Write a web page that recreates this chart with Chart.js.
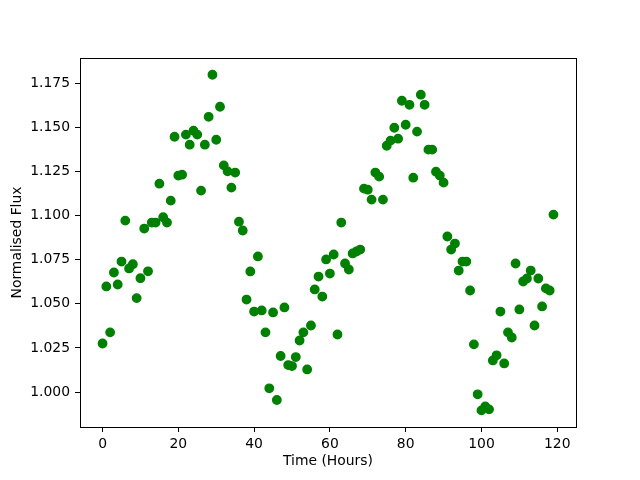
<!DOCTYPE html>
<html>
<head>
<meta charset="utf-8">
<title>Normalised Flux</title>
<script src="https://cdn.jsdelivr.net/npm/chart.js@4.4.1/dist/chart.umd.min.js"></script>
<style>
  html, body { margin: 0; padding: 0; background: #ffffff; }
  #wrap { width: 640px; height: 480px; }
</style>
</head>
<body>
<div id="wrap"><canvas id="fluxChart" width="640" height="480"></canvas></div>
<script>
// data
var hours = [
  0, 1, 2, 3, 4, 5, 6, 7, 8, 9, 10, 11, 12, 13, 14, 15, 16, 17, 18, 19,
  20, 21, 22, 23, 24, 25, 26, 27, 28, 29, 30, 31, 32, 33, 34, 35, 36, 37, 38, 39,
  40, 41, 42, 43, 44, 45, 46, 47, 48, 49, 50, 51, 52, 53, 54, 55, 56, 57, 58, 59,
  60, 61, 62, 63, 64, 65, 66, 67, 68, 69, 70, 71, 72, 73, 74, 75, 76, 77, 78, 79,
  80, 81, 82, 83, 84, 85, 86, 87, 88, 89, 90, 91, 92, 93, 94, 95, 96, 97, 98, 99,
  100, 101, 102, 103, 104, 105, 106, 107, 108, 109, 110, 111, 112, 113, 114, 115, 116, 117, 118, 119
];

var flux = [
  1.0275, 1.0598, 1.0338, 1.0677, 1.0609, 1.0739, 1.0971, 1.0700, 1.0724, 1.0532,
  1.0645, 1.0926, 1.0684, 1.0960, 1.0960, 1.1180, 1.0990, 1.0960, 1.1084, 1.1446,
  1.1226, 1.1231, 1.1458, 1.1401, 1.1480, 1.1458, 1.1141, 1.1401, 1.1559, 1.1797,
  1.1429, 1.1616, 1.1284, 1.1250, 1.1158, 1.1243, 1.0965, 1.0915, 1.0524, 1.0683,
  1.0456, 1.0768, 1.0462, 1.0338, 1.0021, 1.0451, 0.9955, 1.0204, 1.0479, 1.0153,
  1.0147, 1.0198, 1.0292, 1.0338, 1.0128, 1.0377, 1.0581, 1.0654, 1.0541, 1.0751,
  1.0671, 1.0779, 1.0326, 1.0960, 1.0728, 1.0694, 1.0785, 1.0796, 1.0807, 1.1152,
  1.1146, 1.1090, 1.1243, 1.1220, 1.1090, 1.1395, 1.1424, 1.1497, 1.1435, 1.1650,
  1.1514, 1.1627, 1.1214, 1.1475, 1.1684, 1.1627, 1.1373, 1.1373, 1.1248, 1.1226,
  1.1186, 1.0881, 1.0807, 1.0841, 1.0688, 1.0739, 1.0739, 1.0575, 1.0270, 0.9987,
  0.9896, 0.9919, 0.9902, 1.0179, 1.0208, 1.0456, 1.0162, 1.0338, 1.0309, 1.0728,
  1.0468, 1.0626, 1.0643, 1.0688, 1.0377, 1.0643, 1.0485, 1.0587, 1.0575, 1.1005
];

var xTicks = [0, 20, 40, 60, 80, 100, 120];
var yTicks = [1.000, 1.025, 1.050, 1.075, 1.100, 1.125, 1.150, 1.175];

var points = hours.map(function (h, i) {
  return { x: h, y: flux[i] };
});

var FONT = 'DejaVu Sans';

// black box round the plot area (matplotlib spines)
var boxPlugin = {
  id: 'box',
  afterDraw: function (chart) {
    var a = chart.chartArea;
    var ctx = chart.ctx;
    ctx.save();
    ctx.strokeStyle = '#000000';
    ctx.lineWidth = 1;
    ctx.strokeRect(Math.round(a.left) + 0.5, Math.round(a.top) + 0.5,
      Math.round(a.right - a.left), Math.round(a.bottom - a.top));
    ctx.restore();
  }
};

var ctx = document.getElementById('fluxChart').getContext('2d');

new Chart(ctx, {
  type: 'scatter',
  data: {
    datasets: [{
      data: points,
      backgroundColor: '#008000',
      borderColor: '#008000',
      borderWidth: 1.4,
      pointRadius: 4.2,
      pointHoverRadius: 4.2
    }]
  },
  options: {
    responsive: false,
    animation: false,
    events: [],
    layout: {
      padding: { top: 58, right: 64, left: 0, bottom: 0 }
    },
    plugins: {
      legend: { display: false },
      tooltip: { enabled: false }
    },
    scales: {
      x: {
        type: 'linear',
        min: -5.95,
        max: 124.95,
        afterFit: function (scale) { scale.height = 53; },
        afterBuildTicks: function (scale) {
          scale.ticks = xTicks.map(function (v) { return { value: v }; });
        },
        grid: {
          drawOnChartArea: false,
          drawTicks: true,
          tickLength: 5,
          tickColor: '#000000',
          tickWidth: 1
        },
        border: { display: true, color: '#000000', width: 1 },
        ticks: {
          color: '#000000',
          font: { family: FONT, size: 13.9 },
          padding: 4,
          maxRotation: 0,
          callback: function (v) { return String(v); }
        },
        title: {
          display: true,
          text: 'Time (Hours)',
          color: '#000000',
          font: { family: FONT, size: 13.9 },
          padding: { top: 0, bottom: 10 }
        }
      },
      y: {
        type: 'linear',
        min: 0.9802,
        max: 1.1892,
        afterFit: function (scale) { scale.width = 80; },
        afterBuildTicks: function (scale) {
          scale.ticks = yTicks.map(function (v) { return { value: v }; });
        },
        grid: {
          drawOnChartArea: false,
          drawTicks: true,
          tickLength: 5,
          tickColor: '#000000',
          tickWidth: 1
        },
        border: { display: true, color: '#000000', width: 1 },
        ticks: {
          color: '#000000',
          font: { family: FONT, size: 13.9 },
          padding: 5,
          callback: function (v) { return v.toFixed(3); }
        },
        title: {
          display: true,
          text: 'Normalised Flux',
          color: '#000000',
          font: { family: FONT, size: 13.9 },
          padding: { top: 9, bottom: 0 }
        }
      }
    }
  },
  plugins: [boxPlugin]
});
</script>
</body>
</html>
